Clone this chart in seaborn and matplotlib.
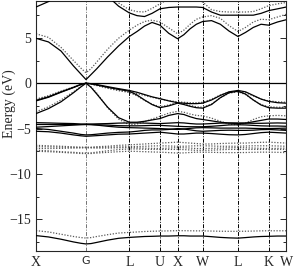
import matplotlib
matplotlib.use("Agg")
import matplotlib.pyplot as plt
from matplotlib.ticker import MultipleLocator
import seaborn as sns

# k-path distance (2pi/a) along X-G-L-U|X-W-L-K-W
k_path = [0.0, 0.25, 0.5, 0.75, 0.9, 1.0, 1.1, 1.2165, 1.433, 1.65, 1.866,
          2.02, 2.17, 2.32, 2.478, 2.655, 2.832, 2.957, 3.082, 3.207, 3.332,
          3.51, 3.686, 3.86, 4.039, 4.19, 4.345, 4.5, 4.651, 4.83, 5.005]
sym_k = [0.0, 1.0, 1.866, 2.478, 2.832, 3.332, 4.039, 4.651, 5.005]
sym_labels = ["X", "G", "L", "U", "X", "W", "L", "K", "W"]

# solid bands (eV)
cb2_solid = [8.4, 9.0, 10.0, 11.0, 11.8, 12.0, 11.8, 11.2, 9.6, 8.5, 7.75,
             7.45, 7.35, 7.7, 8.2, 8.35, 8.4, 8.4, 8.4, 8.4, 8.35,
             7.85, 7.5, 7.5, 7.5, 7.5, 7.5, 7.7, 8.0, 8.2, 8.4]
cb1_solid = [4.95, 4.55, 3.55, 1.9, 1.0, 0.4, 0.95, 1.6, 2.9, 4.1, 5.15,
             5.7, 6.3, 6.7, 6.4, 5.5, 4.9, 5.35, 6.0, 6.5, 6.8,
             6.9, 6.5, 5.75, 5.15, 5.6, 6.15, 6.5, 6.4, 6.75, 7.0]
vb1_solid = [-1.9, -1.5, -0.95, -0.45, -0.12, 0.0, -0.05, -0.15, -0.38, -0.6, -0.8,
             -1.0, -1.25, -1.5, -1.7, -1.95, -2.15, -2.2, -2.25, -2.25, -2.2,
             -1.85, -1.35, -0.95, -0.8, -0.95, -1.35, -1.75, -2.0, -2.15, -2.2]
vb2_solid = [-1.95, -1.55, -1.0, -0.48, -0.14, 0.0, -0.07, -0.2, -0.45, -0.68, -0.88,
             -1.3, -1.85, -2.35, -2.7, -2.5, -2.2, -2.35, -2.55, -2.7, -2.75,
             -2.35, -1.6, -1.05, -0.88, -1.2, -1.85, -2.4, -2.7, -2.75, -2.75]
vb3_solid = [-3.35, -2.8, -2.05, -1.05, -0.4, 0.0, -0.45, -1.2, -2.65, -3.8, -4.3,
             -4.3, -4.2, -4.05, -3.9, -3.55, -3.35, -3.45, -3.7, -3.9, -4.0,
             -4.15, -4.3, -4.4, -4.45, -4.4, -4.25, -4.1, -3.95, -3.95, -4.0]
d1_solid = [-4.35, -4.38, -4.42, -4.45, -4.5, -4.5, -4.5, -4.48, -4.45, -4.4, -4.38,
            -4.38, -4.4, -4.42, -4.45, -4.4, -4.35, -4.38, -4.45, -4.5, -4.5,
            -4.45, -4.4, -4.38, -4.38, -4.4, -4.42, -4.42, -4.4, -4.38, -4.4]
d2_solid = [-4.55, -4.55, -4.55, -4.55, -4.55, -4.55, -4.55, -4.58, -4.62, -4.68, -4.7,
            -4.7, -4.68, -4.65, -4.65, -4.7, -4.75, -4.78, -4.8, -4.8, -4.8,
            -4.75, -4.68, -4.6, -4.58, -4.6, -4.65, -4.7, -4.72, -4.72, -4.75]
d3_solid = [-4.85, -4.78, -4.7, -4.62, -4.57, -4.55, -4.57, -4.62, -4.75, -4.85, -4.9,
            -4.92, -4.95, -4.97, -5.0, -5.05, -5.1, -5.05, -4.98, -4.92, -4.9,
            -4.92, -4.95, -4.95, -4.95, -4.95, -4.98, -5.0, -5.0, -4.98, -4.95]
d4_solid = [-5.0, -5.1, -5.3, -5.5, -5.65, -5.7, -5.68, -5.62, -5.5, -5.42, -5.38,
            -5.3, -5.2, -5.15, -5.15, -5.1, -5.0, -5.05, -5.15, -5.25, -5.3,
            -5.25, -5.2, -5.18, -5.2, -5.2, -5.18, -5.12, -5.1, -5.15, -5.2]
d5_solid = [-5.3, -5.35, -5.5, -5.7, -5.8, -5.85, -5.82, -5.78, -5.7, -5.62, -5.6,
            -5.55, -5.5, -5.45, -5.4, -5.5, -5.6, -5.6, -5.55, -5.5, -5.5,
            -5.55, -5.62, -5.68, -5.7, -5.65, -5.55, -5.45, -5.4, -5.45, -5.5]
low_solid = [-16.8, -16.95, -17.2, -17.5, -17.65, -17.72, -17.68, -17.55, -17.3, -17.1, -17.0,
             -16.95, -16.9, -16.88, -16.85, -16.85, -16.82, -16.82, -16.85, -16.85, -16.85,
             -16.92, -17.0, -17.05, -17.08, -17.02, -16.95, -16.9, -16.88, -16.85, -16.85]

# dotted bands (eV)
cb2_dotted = [9.5, 10.2, 11.0, 12.0, 12.5, 12.7, 12.5, 12.0, 10.0, 8.85, 8.1,
              7.9, 7.85, 8.25, 8.75, 9.3, 9.5, 9.5, 9.4, 9.2, 8.95,
              8.1, 7.9, 7.85, 7.85, 7.85, 7.9, 8.2, 8.55, 8.75, 8.9]
cb1_dotted = [5.45, 5.05, 3.95, 2.5, 1.65, 1.15, 1.6, 2.35, 3.75, 4.95, 5.85,
              6.4, 6.8, 6.95, 6.75, 6.1, 5.45, 5.85, 6.5, 7.05, 7.3,
              7.45, 7.15, 6.35, 5.7, 6.15, 6.75, 7.05, 7.0, 7.3, 7.6]
vb1_dotted = [-1.75, -1.38, -0.88, -0.42, -0.12, 0.0, -0.08, -0.22, -0.5, -0.78, -0.98,
              -1.15, -1.35, -1.55, -1.75, -1.92, -2.05, -2.1, -2.15, -2.15, -2.1,
              -1.75, -1.3, -0.98, -0.92, -1.05, -1.4, -1.75, -1.95, -2.05, -2.1]
vb2_dotted = [-1.8, -1.42, -0.92, -0.44, -0.13, 0.0, -0.1, -0.26, -0.56, -0.82, -1.02,
              -1.4, -1.9, -2.3, -2.6, -2.4, -2.1, -2.25, -2.45, -2.6, -2.65,
              -2.3, -1.6, -1.1, -0.95, -1.25, -1.85, -2.35, -2.6, -2.65, -2.65]
vb3_dotted = [-3.15, -2.6, -1.85, -0.95, -0.35, 0.0, -0.4, -1.1, -2.7, -3.95, -4.6,
              -4.5, -4.25, -3.95, -3.65, -3.3, -3.1, -3.2, -3.4, -3.55, -3.6,
              -3.85, -4.2, -4.5, -4.6, -4.4, -4.0, -3.7, -3.6, -3.55, -3.6]
d1_dotted = [-6.85, -6.9, -6.95, -7.02, -7.05, -7.05, -7.05, -7.0, -6.95, -6.85, -6.8,
             -6.75, -6.7, -6.65, -6.6, -6.55, -6.5, -6.55, -6.6, -6.65, -6.7,
             -6.7, -6.65, -6.62, -6.6, -6.6, -6.55, -6.52, -6.5, -6.55, -6.6]
d2_dotted = [-7.0, -7.02, -7.05, -7.08, -7.1, -7.1, -7.1, -7.08, -7.05, -7.02, -7.0,
             -6.98, -6.95, -6.92, -6.9, -6.92, -6.95, -6.95, -6.92, -6.9, -6.9,
             -6.92, -6.95, -6.95, -6.95, -6.92, -6.9, -6.9, -6.9, -6.92, -6.95]
d3_dotted = [-7.2, -7.2, -7.18, -7.15, -7.12, -7.1, -7.12, -7.15, -7.15, -7.12, -7.1,
             -7.12, -7.15, -7.18, -7.2, -7.15, -7.1, -7.12, -7.15, -7.2, -7.2,
             -7.18, -7.15, -7.12, -7.1, -7.12, -7.15, -7.18, -7.2, -7.18, -7.15]
d4_dotted = [-7.4, -7.45, -7.55, -7.62, -7.68, -7.7, -7.68, -7.6, -7.45, -7.32, -7.25,
             -7.25, -7.28, -7.3, -7.3, -7.3, -7.3, -7.32, -7.36, -7.4, -7.4,
             -7.38, -7.34, -7.3, -7.3, -7.3, -7.3, -7.3, -7.3, -7.3, -7.3]
d5_dotted = [-7.5, -7.55, -7.62, -7.7, -7.75, -7.75, -7.75, -7.7, -7.62, -7.55, -7.5,
             -7.52, -7.55, -7.58, -7.6, -7.65, -7.7, -7.68, -7.64, -7.6, -7.6,
             -7.62, -7.64, -7.65, -7.65, -7.64, -7.62, -7.6, -7.6, -7.62, -7.65]
low_dotted = [-16.25, -16.4, -16.65, -16.9, -17.02, -17.07, -17.02, -16.9, -16.7, -16.52, -16.45,
              -16.4, -16.35, -16.32, -16.3, -16.28, -16.26, -16.26, -16.27, -16.28, -16.28,
              -16.3, -16.32, -16.33, -16.33, -16.32, -16.3, -16.28, -16.27, -16.27, -16.27]

solid_bands = [cb2_solid, cb1_solid, vb1_solid, vb2_solid, vb3_solid, d1_solid,
               d2_solid, d3_solid, d4_solid, d5_solid, low_solid]
dotted_bands = [cb2_dotted, cb1_dotted, vb1_dotted, vb2_dotted, vb3_dotted, d1_dotted,
                d2_dotted, d3_dotted, d4_dotted, d5_dotted, low_dotted]

sns.set_style("ticks")
plt.rcParams["font.family"] = ["Liberation Serif", "DejaVu Serif"]
plt.rcParams["axes.linewidth"] = 0.8

fig = plt.figure(figsize=(2.94, 2.68), dpi=100)
ax = fig.add_axes([0.1224, 0.0634, 0.8514, 0.9341])

# high-symmetry lines and Fermi level
for i, k in enumerate(sym_k[1:-1]):
    col = "0.45" if sym_labels[i + 1] == "G" else "black"
    ax.axvline(k, color=col, linewidth=0.7, linestyle=(0, (4, 1.5, 1, 1.5)), zorder=1)
ax.axhline(0.0, color="black", linewidth=0.9, zorder=1)

for band in dotted_bands:
    sns.lineplot(x=k_path, y=band, ax=ax, color="0.35", linewidth=0.9,
                 linestyle=(0, (1, 1.3)), estimator=None, sort=False, zorder=2)
for band in solid_bands:
    sns.lineplot(x=k_path, y=band, ax=ax, color="black", linewidth=0.9,
                 estimator=None, sort=False, zorder=3)

ax.set_xlim(sym_k[0], sym_k[-1])
ax.set_ylim(-18.5, 9.1)
ax.set_xticks(sym_k)
ax.set_xticklabels(sym_labels, fontsize=10)
for lab in ax.get_xticklabels():
    if lab.get_text() == "G":
        lab.set_fontfamily("DejaVu Sans")
        lab.set_fontsize(8)
ax.tick_params(axis="x", length=0, pad=3.5)

ax.set_yticks([-15, -10, -5, 0, 5])
ax.yaxis.set_minor_locator(MultipleLocator(2.5))
ax.tick_params(axis="y", which="both", direction="in", left=True, right=True,
               labelsize=10, width=0.7)
ax.tick_params(axis="y", which="major", length=4)
ax.tick_params(axis="y", which="minor", length=2.5)
ax.set_ylabel("Energy (eV)", fontsize=10)
ax.yaxis.set_label_coords(-0.08, 0.59)

fig.savefig("out.png", dpi=100)
